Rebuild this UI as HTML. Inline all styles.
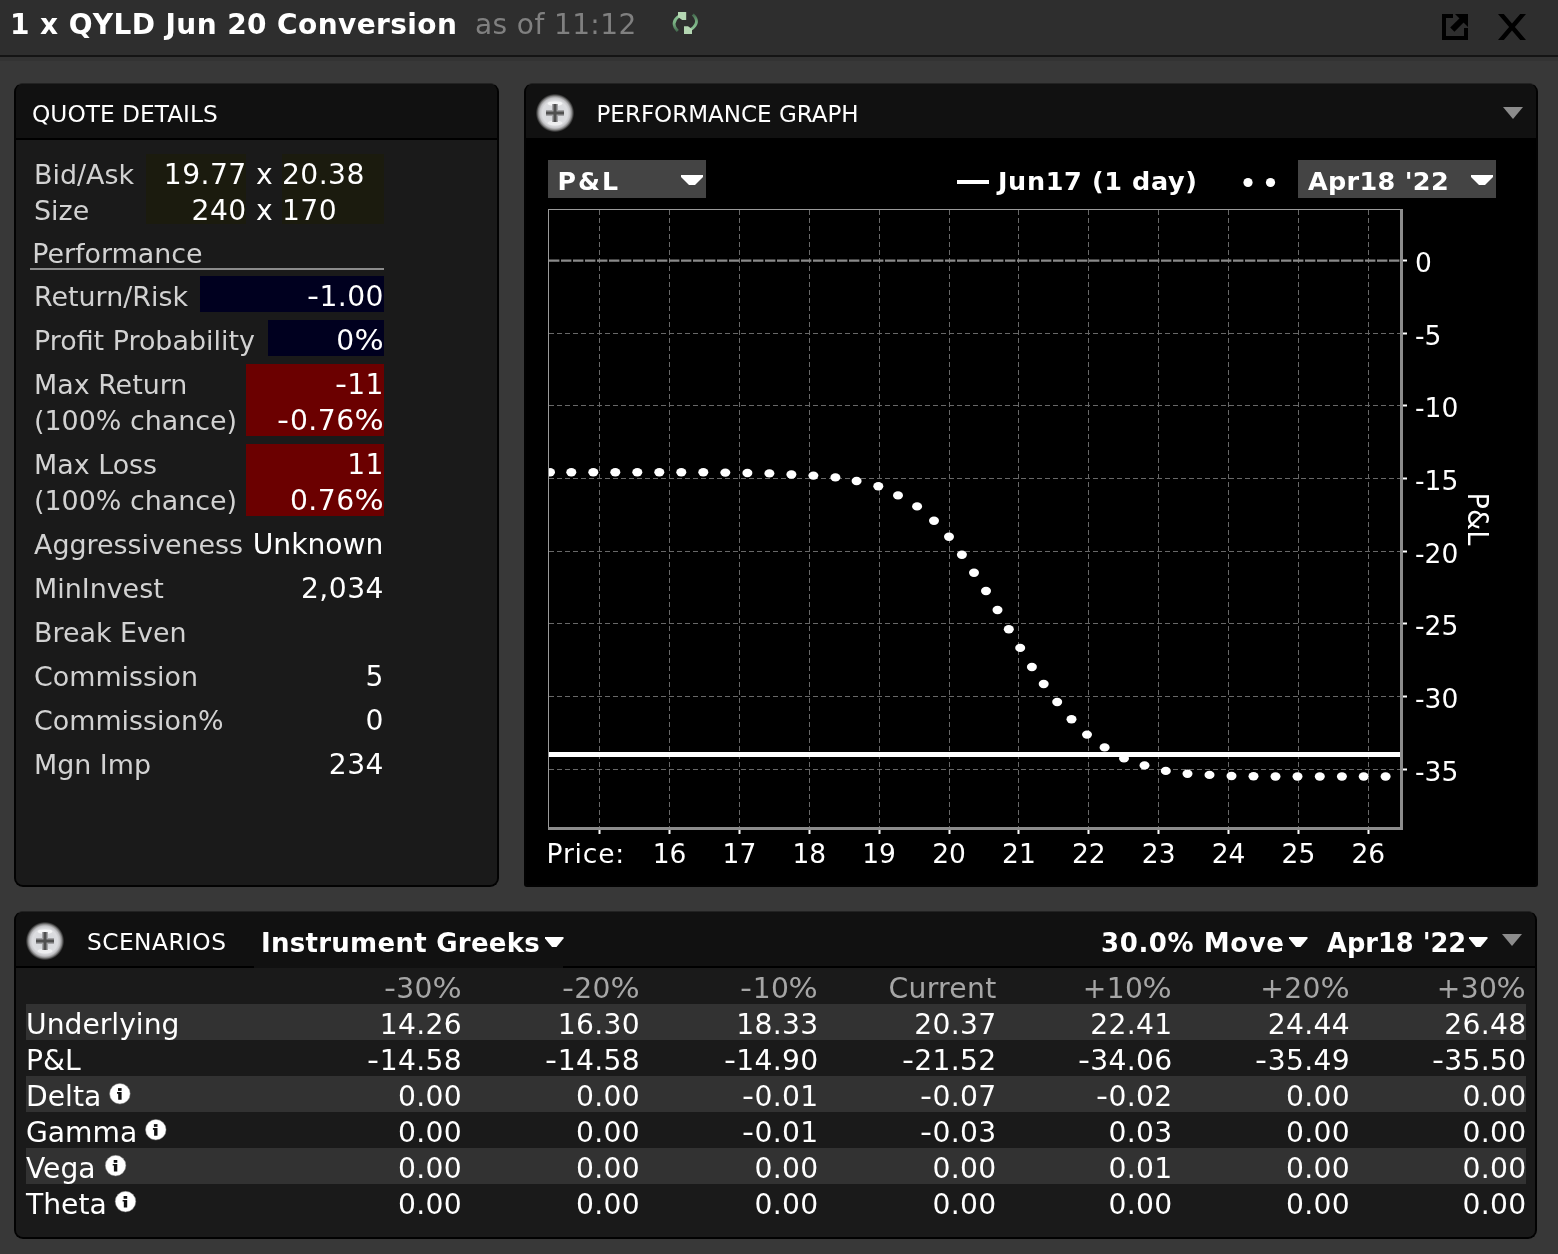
<!DOCTYPE html>
<html>
<head>
<meta charset="utf-8">
<title>1 x QYLD Jun 20 Conversion</title>
<style>
html,body{margin:0;padding:0;}
body{width:1558px;height:1254px;background:#383838;overflow:hidden;position:relative;
 font-family:"DejaVu Sans","Liberation Sans",sans-serif;color:#fff;}
.abs{position:absolute;}
.t{position:absolute;white-space:pre;line-height:1;}
#titlebar{position:absolute;left:0;top:0;width:1558px;height:55px;background:#2e2e2e;}
#titleline{position:absolute;left:0;top:55px;width:1558px;height:2px;background:#141414;}
#titlehl{position:absolute;left:0;top:57px;width:1558px;height:4px;background:#333;}
.panel{position:absolute;background:#111;border:2px solid #020202;border-top:1px solid #222;border-radius:9px;box-sizing:border-box;overflow:hidden;}
.phead{position:absolute;left:0;top:0;right:0;height:54px;background:#111;}
.lbl{color:#d2d2d2;font-size:26.9px;}
.val{color:#fff;font-size:28.2px;text-align:right;}
.num{letter-spacing:0.45px;margin-left:0.45px;}
.hd{font-size:23.3px;color:#fff;}
.b{font-weight:bold;}
.sv{font-size:28.2px;line-height:36px;text-align:right;color:#fff;letter-spacing:0.3px;}
.sl{font-size:28.2px;line-height:36px;color:#fff;}
.pc{display:inline-block;transform:scaleX(1.09);transform-origin:100% 50%;margin-left:2.2px;}
.hy{display:inline-block;transform:scaleX(1.18);transform-origin:100% 50%;margin-left:1.4px;}
</style>
</head>
<body>
<!-- TITLE BAR -->
<div id="titlebar"></div><div id="titleline"></div><div id="titlehl"></div>
<div class="t b" style="left:10px;top:11px;font-size:28px;letter-spacing:0.4px;">1 x QYLD Jun 20 Conversion</div>
<div class="t" style="left:475px;top:11px;font-size:28px;letter-spacing:0.4px;color:#808080;">as of 11:12</div>

<!-- QUOTE DETAILS PANEL -->
<div class="panel" id="qd" style="left:14px;top:83px;width:485px;height:804px;">
  <div class="phead"></div>
  <div class="abs" style="left:0;top:54px;right:0;height:2px;background:#000;"></div>
  <div class="abs" style="left:0;top:56px;right:0;bottom:0;background:#1a1a1a;"></div>
</div>

<!-- PERFORMANCE GRAPH PANEL -->
<div class="panel" id="pg" style="left:524px;top:83px;width:1014px;height:804px;border-radius:9px 9px 3px 3px;">
  <div class="phead"></div>
  <div class="abs" style="left:0;top:54px;right:0;bottom:0;background:#000;"></div>
</div>

<!-- SCENARIOS PANEL -->
<div class="panel" id="sc" style="left:14px;top:911px;width:1523px;height:328px;">
  <div class="phead"></div>
  <div class="abs" style="left:0;top:56px;right:0;bottom:0;background:#1a1a1a;"></div>
</div>

<!-- QUOTE DETAILS CONTENT -->
<div class="t hd" style="left:32px;top:96px;line-height:36px;">QUOTE DETAILS</div>
<div class="abs" style="left:146px;top:154px;width:100px;height:70px;background:#1b1b0e;"></div>
<div class="abs" style="left:282px;top:154px;width:102px;height:70px;background:#1b1b0e;"></div>
<div class="t lbl" style="left:34px;top:157px;line-height:36px;">Bid/Ask</div>
<div class="t lbl" style="left:34px;top:193px;line-height:36px;">Size</div>
<div class="t val num" style="left:-53.7px;width:300px;top:157px;line-height:36px;">19.77</div>
<div class="t val num" style="left:-53.7px;width:300px;top:193px;line-height:36px;">240</div>
<div class="t val" style="left:256px;top:157px;line-height:36px;text-align:left;">x</div>
<div class="t val" style="left:256px;top:193px;line-height:36px;text-align:left;">x</div>
<div class="t val num" style="left:281.5px;top:157px;line-height:36px;text-align:left;">20.38</div>
<div class="t val num" style="left:281.5px;top:193px;line-height:36px;text-align:left;">170</div>
<div class="t lbl" style="left:32.2px;top:236px;line-height:36px;">Performance</div>
<div class="abs" style="left:30px;top:268px;width:354px;height:2px;background:#8c8c8c;"></div>
<div class="abs" style="left:200px;top:276px;width:184px;height:36px;background:#00001f;"></div>
<div class="t lbl" style="left:34px;top:279px;line-height:36px;">Return/Risk</div>
<div class="t val num" style="left:83.5px;width:300px;top:279px;line-height:36px;"><span class="hy">-</span>1.00</div>
<div class="abs" style="left:268px;top:320px;width:116px;height:36px;background:#00001f;"></div>
<div class="t lbl" style="left:34px;top:323px;line-height:36px;">Profit Probability</div>
<div class="t val num" style="left:83.5px;width:300px;top:323px;line-height:36px;">0<span class="pc">%</span></div>
<div class="abs" style="left:246px;top:364px;width:138px;height:72px;background:#6b0000;"></div>
<div class="t lbl" style="left:34px;top:367px;line-height:36px;">Max Return</div>
<div class="t val num" style="left:83.5px;width:300px;top:367px;line-height:36px;"><span class="hy">-</span>11</div>
<div class="t lbl" style="left:34px;top:403px;line-height:36px;">(100% chance)</div>
<div class="t val num" style="left:83.5px;width:300px;top:403px;line-height:36px;"><span class="hy">-</span>0.76<span class="pc">%</span></div>
<div class="abs" style="left:246px;top:444px;width:138px;height:72px;background:#6b0000;"></div>
<div class="t lbl" style="left:34px;top:447px;line-height:36px;">Max Loss</div>
<div class="t val num" style="left:83.5px;width:300px;top:447px;line-height:36px;">11</div>
<div class="t lbl" style="left:34px;top:483px;line-height:36px;">(100% chance)</div>
<div class="t val num" style="left:83.5px;width:300px;top:483px;line-height:36px;">0.76<span class="pc">%</span></div>
<div class="t lbl" style="left:34px;top:527px;line-height:36px;">Aggressiveness</div>
<div class="t val" style="left:83.5px;width:300px;top:527px;line-height:36px;">Unknown</div>
<div class="t lbl" style="left:34px;top:571px;line-height:36px;">MinInvest</div>
<div class="t val num" style="left:83.5px;width:300px;top:571px;line-height:36px;">2,034</div>
<div class="t lbl" style="left:34px;top:615px;line-height:36px;">Break Even</div>
<div class="t lbl" style="left:34px;top:659px;line-height:36px;">Commission</div>
<div class="t val num" style="left:83.5px;width:300px;top:659px;line-height:36px;">5</div>
<div class="t lbl" style="left:34px;top:703px;line-height:36px;">Commission%</div>
<div class="t val num" style="left:83.5px;width:300px;top:703px;line-height:36px;">0</div>
<div class="t lbl" style="left:34px;top:747px;line-height:36px;">Mgn Imp</div>
<div class="t val num" style="left:83.5px;width:300px;top:747px;line-height:36px;">234</div>

<!-- CHART -->
<svg class="abs" style="left:0;top:0;" width="1558" height="1254" viewBox="0 0 1558 1254" font-family="DejaVu Sans, Liberation Sans, sans-serif">
<rect x="548" y="160" width="158" height="38" fill="#444"/>
<rect x="1298" y="160" width="198" height="38" fill="#444"/>
<text x="557.6" y="190.3" font-size="25.2" font-weight="bold" letter-spacing="2" fill="#fff">P&amp;L</text>
<path d="M681 175h22v2l-8 8h-6l-8-8z" fill="#fff"/>
<text x="1308" y="190.3" font-size="25.5" font-weight="bold" letter-spacing="0.3" fill="#fff">Apr18 '22</text>
<path d="M1471 175h22v2l-8 8h-6l-8-8z" fill="#fff"/>
<rect x="957" y="180" width="32" height="4" fill="#fff"/>
<text x="998" y="190.3" font-size="25.5" font-weight="bold" letter-spacing="0.62" fill="#fff">Jun17 (1 day)</text>
<circle cx="1248" cy="182.5" r="4.6" fill="#fff"/><circle cx="1270.5" cy="182.5" r="4.6" fill="#fff"/>
<path d="M599.5 210V827 M669.5 210V827 M739.5 210V827 M809.5 210V827 M879.5 210V827 M949.5 210V827 M1018.5 210V827 M1088.5 210V827 M1158.5 210V827 M1228.5 210V827 M1298.5 210V827 M1368.5 210V827" stroke="#686868" stroke-width="1" stroke-dasharray="5 3" fill="none"/>
<path d="M549 769.5H1400 M549 696.5H1400 M549 623.5H1400 M549 551.5H1400 M549 478.5H1400 M549 405.5H1400 M549 333.5H1400" stroke="#686868" stroke-width="1" stroke-dasharray="5 3" fill="none"/>
<path d="M549 260.6H1400" stroke="#8a8a8a" stroke-width="2.4" stroke-dasharray="10.4 1.6" fill="none"/>
<rect x="548" y="209" width="1" height="621" fill="#9a9a9a"/>
<rect x="548" y="209" width="855" height="1" fill="#9a9a9a"/>
<rect x="1400" y="209" width="3" height="621" fill="#8c8c8c"/>
<rect x="548" y="827" width="855" height="3" fill="#8c8c8c"/>
<rect x="598.5" y="830" width="2" height="4" fill="#fff"/>
<rect x="668.5" y="830" width="2" height="4" fill="#fff"/>
<rect x="738.5" y="830" width="2" height="4" fill="#fff"/>
<rect x="808.5" y="830" width="2" height="4" fill="#fff"/>
<rect x="878.5" y="830" width="2" height="4" fill="#fff"/>
<rect x="948.5" y="830" width="2" height="4" fill="#fff"/>
<rect x="1017.5" y="830" width="2" height="4" fill="#fff"/>
<rect x="1087.5" y="830" width="2" height="4" fill="#fff"/>
<rect x="1157.5" y="830" width="2" height="4" fill="#fff"/>
<rect x="1227.5" y="830" width="2" height="4" fill="#fff"/>
<rect x="1297.5" y="830" width="2" height="4" fill="#fff"/>
<rect x="1367.5" y="830" width="2" height="4" fill="#fff"/>
<rect x="1403" y="768.5" width="4" height="2" fill="#fff"/>
<rect x="1403" y="695.5" width="4" height="2" fill="#fff"/>
<rect x="1403" y="622.5" width="4" height="2" fill="#fff"/>
<rect x="1403" y="550.5" width="4" height="2" fill="#fff"/>
<rect x="1403" y="477.5" width="4" height="2" fill="#fff"/>
<rect x="1403" y="404.5" width="4" height="2" fill="#fff"/>
<rect x="1403" y="332.5" width="4" height="2" fill="#fff"/>
<rect x="1403" y="259.5" width="4" height="2" fill="#fff"/>
<rect x="549" y="752" width="851" height="5" fill="#fff"/>
<text x="546.6" y="863" font-size="26.5" letter-spacing="0.8" fill="#fff">Price:</text>
<text x="669.5" y="863" font-size="26.5" fill="#fff" text-anchor="middle">16</text>
<text x="739.4" y="863" font-size="26.5" fill="#fff" text-anchor="middle">17</text>
<text x="809.3" y="863" font-size="26.5" fill="#fff" text-anchor="middle">18</text>
<text x="879.1" y="863" font-size="26.5" fill="#fff" text-anchor="middle">19</text>
<text x="949.0" y="863" font-size="26.5" fill="#fff" text-anchor="middle">20</text>
<text x="1018.9" y="863" font-size="26.5" fill="#fff" text-anchor="middle">21</text>
<text x="1088.8" y="863" font-size="26.5" fill="#fff" text-anchor="middle">22</text>
<text x="1158.7" y="863" font-size="26.5" fill="#fff" text-anchor="middle">23</text>
<text x="1228.5" y="863" font-size="26.5" fill="#fff" text-anchor="middle">24</text>
<text x="1298.4" y="863" font-size="26.5" fill="#fff" text-anchor="middle">25</text>
<text x="1368.3" y="863" font-size="26.5" fill="#fff" text-anchor="middle">26</text>
<text x="1415" y="780.7" font-size="26.5" fill="#fff">-35</text>
<text x="1415" y="708.0" font-size="26.5" fill="#fff">-30</text>
<text x="1415" y="635.3" font-size="26.5" fill="#fff">-25</text>
<text x="1415" y="562.6" font-size="26.5" fill="#fff">-20</text>
<text x="1415" y="490.0" font-size="26.5" fill="#fff">-15</text>
<text x="1415" y="417.3" font-size="26.5" fill="#fff">-10</text>
<text x="1415" y="344.6" font-size="26.5" fill="#fff">-5</text>
<text x="1415" y="271.9" font-size="26.5" fill="#fff">0</text>
<text transform="translate(1467.6,492.6) rotate(90) scale(0.95,1)" font-size="28.6" fill="#fff">P&amp;L</text>
<clipPath id="plotclip"><rect x="549" y="210" width="851" height="617"/></clipPath><g fill="#fff" clip-path="url(#plotclip)"><ellipse cx="550" cy="472.3" rx="5" ry="4.2"/><ellipse cx="571.3" cy="472.3" rx="5" ry="4.2"/><ellipse cx="593.3" cy="472.3" rx="5" ry="4.2"/><ellipse cx="615.3" cy="472.3" rx="5" ry="4.2"/><ellipse cx="637.3" cy="472.3" rx="5" ry="4.2"/><ellipse cx="659.3" cy="472.3" rx="5" ry="4.2"/><ellipse cx="681.3" cy="472.3" rx="5" ry="4.2"/><ellipse cx="703.3" cy="472.3" rx="5" ry="4.2"/><ellipse cx="725.3" cy="472.6" rx="5" ry="4.2"/><ellipse cx="747.4" cy="473" rx="5" ry="4.2"/><ellipse cx="769.4" cy="473.4" rx="5" ry="4.2"/><ellipse cx="791.4" cy="474.5" rx="5" ry="4.2"/><ellipse cx="813.4" cy="475.6" rx="5" ry="4.2"/><ellipse cx="835.4" cy="477.4" rx="5" ry="4.2"/><ellipse cx="856.6" cy="481" rx="5" ry="4.2"/><ellipse cx="878.3" cy="486.2" rx="5" ry="4.2"/><ellipse cx="898" cy="495.4" rx="5" ry="4.2"/><ellipse cx="917.1" cy="506.4" rx="5" ry="4.2"/><ellipse cx="934" cy="520.7" rx="5" ry="4.2"/><ellipse cx="949" cy="536.8" rx="5" ry="4.2"/><ellipse cx="961.9" cy="554.8" rx="5" ry="4.2"/><ellipse cx="974" cy="572.7" rx="5" ry="4.2"/><ellipse cx="986" cy="591" rx="5" ry="4.2"/><ellipse cx="997.5" cy="610" rx="5" ry="4.2"/><ellipse cx="1008.8" cy="629.2" rx="5" ry="4.2"/><ellipse cx="1020.2" cy="647.9" rx="5" ry="4.2"/><ellipse cx="1031.9" cy="667" rx="5" ry="4.2"/><ellipse cx="1043.7" cy="684" rx="5" ry="4.2"/><ellipse cx="1057.2" cy="702" rx="5" ry="4.2"/><ellipse cx="1071.5" cy="719.2" rx="5" ry="4.2"/><ellipse cx="1087" cy="734.6" rx="5" ry="4.2"/><ellipse cx="1104.6" cy="747.4" rx="5" ry="4.2"/><ellipse cx="1124" cy="758.4" rx="5" ry="4.2"/><ellipse cx="1144.5" cy="765.4" rx="5" ry="4.2"/><ellipse cx="1165.8" cy="770.9" rx="5" ry="4.2"/><ellipse cx="1187.5" cy="773.8" rx="5" ry="4.2"/><ellipse cx="1209.5" cy="774.9" rx="5" ry="4.2"/><ellipse cx="1231.5" cy="776" rx="5" ry="4.2"/><ellipse cx="1253.5" cy="776.3" rx="5" ry="4.2"/><ellipse cx="1275.5" cy="776.5" rx="5" ry="4.2"/><ellipse cx="1297.5" cy="776.5" rx="5" ry="4.2"/><ellipse cx="1319.8" cy="776.5" rx="5" ry="4.2"/><ellipse cx="1341.9" cy="776.5" rx="5" ry="4.2"/><ellipse cx="1363.7" cy="776.5" rx="5" ry="4.2"/><ellipse cx="1385.6" cy="776.5" rx="5" ry="4.2"/></g>
</svg>
<div class="t hd" style="left:596.5px;top:96px;line-height:36px;font-size:23px;">PERFORMANCE GRAPH</div>

<!-- SCENARIOS CONTENT -->
<div class="abs" style="left:16px;top:966px;width:238px;height:2px;background:#000;"></div>
<div class="abs" style="left:563px;top:966px;width:972px;height:2px;background:#000;"></div>
<div class="t" style="left:87px;top:924px;line-height:36px;font-size:23.3px;letter-spacing:0.45px;color:#fff;">SCENARIOS</div>
<div class="t b" style="left:261px;top:925px;line-height:36px;font-size:26px;letter-spacing:0.28px;">Instrument Greeks</div>
<div class="t b" style="left:1101px;top:925px;line-height:36px;font-size:26px;letter-spacing:0.6px;">30.0% Move</div>
<div class="t b" style="left:1327px;top:925px;line-height:36px;font-size:25.7px;">Apr18 '22</div>
<div class="t sv" style="left:262px;width:200px;top:971px;color:#a6a6a6;"><span class="hy">-</span>30<span class="pc">%</span></div>
<div class="t sv" style="left:440px;width:200px;top:971px;color:#a6a6a6;"><span class="hy">-</span>20<span class="pc">%</span></div>
<div class="t sv" style="left:618.5px;width:200px;top:971px;color:#a6a6a6;"><span class="hy">-</span>10<span class="pc">%</span></div>
<div class="t sv" style="left:796.5px;width:200px;top:971px;color:#a6a6a6;">Current</div>
<div class="t sv" style="left:972.5px;width:200px;top:971px;color:#a6a6a6;">+10<span class="pc">%</span></div>
<div class="t sv" style="left:1150px;width:200px;top:971px;color:#a6a6a6;">+20<span class="pc">%</span></div>
<div class="t sv" style="left:1326.5px;width:200px;top:971px;color:#a6a6a6;">+30<span class="pc">%</span></div>
<div class="abs" style="left:26px;top:1004px;width:1500px;height:36px;background:#323232;"></div>
<div class="t sl" style="left:26px;top:1007px;">Underlying</div>
<div class="t sv" style="left:262px;width:200px;top:1007px;">14.26</div>
<div class="t sv" style="left:440px;width:200px;top:1007px;">16.30</div>
<div class="t sv" style="left:618.5px;width:200px;top:1007px;">18.33</div>
<div class="t sv" style="left:796.5px;width:200px;top:1007px;">20.37</div>
<div class="t sv" style="left:972.5px;width:200px;top:1007px;">22.41</div>
<div class="t sv" style="left:1150px;width:200px;top:1007px;">24.44</div>
<div class="t sv" style="left:1326.5px;width:200px;top:1007px;">26.48</div>
<div class="t sl" style="left:26px;top:1043px;">P&amp;L</div>
<div class="t sv" style="left:262px;width:200px;top:1043px;"><span class="hy">-</span>14.58</div>
<div class="t sv" style="left:440px;width:200px;top:1043px;"><span class="hy">-</span>14.58</div>
<div class="t sv" style="left:618.5px;width:200px;top:1043px;"><span class="hy">-</span>14.90</div>
<div class="t sv" style="left:796.5px;width:200px;top:1043px;"><span class="hy">-</span>21.52</div>
<div class="t sv" style="left:972.5px;width:200px;top:1043px;"><span class="hy">-</span>34.06</div>
<div class="t sv" style="left:1150px;width:200px;top:1043px;"><span class="hy">-</span>35.49</div>
<div class="t sv" style="left:1326.5px;width:200px;top:1043px;"><span class="hy">-</span>35.50</div>
<div class="abs" style="left:26px;top:1076px;width:1500px;height:36px;background:#323232;"></div>
<div class="t sl" style="left:26px;top:1079px;">Delta</div>
<div class="t sv" style="left:262px;width:200px;top:1079px;">0.00</div>
<div class="t sv" style="left:440px;width:200px;top:1079px;">0.00</div>
<div class="t sv" style="left:618.5px;width:200px;top:1079px;"><span class="hy">-</span>0.01</div>
<div class="t sv" style="left:796.5px;width:200px;top:1079px;"><span class="hy">-</span>0.07</div>
<div class="t sv" style="left:972.5px;width:200px;top:1079px;"><span class="hy">-</span>0.02</div>
<div class="t sv" style="left:1150px;width:200px;top:1079px;">0.00</div>
<div class="t sv" style="left:1326.5px;width:200px;top:1079px;">0.00</div>
<div class="t sl" style="left:26px;top:1115px;">Gamma</div>
<div class="t sv" style="left:262px;width:200px;top:1115px;">0.00</div>
<div class="t sv" style="left:440px;width:200px;top:1115px;">0.00</div>
<div class="t sv" style="left:618.5px;width:200px;top:1115px;"><span class="hy">-</span>0.01</div>
<div class="t sv" style="left:796.5px;width:200px;top:1115px;"><span class="hy">-</span>0.03</div>
<div class="t sv" style="left:972.5px;width:200px;top:1115px;">0.03</div>
<div class="t sv" style="left:1150px;width:200px;top:1115px;">0.00</div>
<div class="t sv" style="left:1326.5px;width:200px;top:1115px;">0.00</div>
<div class="abs" style="left:26px;top:1148px;width:1500px;height:36px;background:#323232;"></div>
<div class="t sl" style="left:26px;top:1151px;">Vega</div>
<div class="t sv" style="left:262px;width:200px;top:1151px;">0.00</div>
<div class="t sv" style="left:440px;width:200px;top:1151px;">0.00</div>
<div class="t sv" style="left:618.5px;width:200px;top:1151px;">0.00</div>
<div class="t sv" style="left:796.5px;width:200px;top:1151px;">0.00</div>
<div class="t sv" style="left:972.5px;width:200px;top:1151px;">0.01</div>
<div class="t sv" style="left:1150px;width:200px;top:1151px;">0.00</div>
<div class="t sv" style="left:1326.5px;width:200px;top:1151px;">0.00</div>
<div class="t sl" style="left:26px;top:1187px;">Theta</div>
<div class="t sv" style="left:262px;width:200px;top:1187px;">0.00</div>
<div class="t sv" style="left:440px;width:200px;top:1187px;">0.00</div>
<div class="t sv" style="left:618.5px;width:200px;top:1187px;">0.00</div>
<div class="t sv" style="left:796.5px;width:200px;top:1187px;">0.00</div>
<div class="t sv" style="left:972.5px;width:200px;top:1187px;">0.00</div>
<div class="t sv" style="left:1150px;width:200px;top:1187px;">0.00</div>
<div class="t sv" style="left:1326.5px;width:200px;top:1187px;">0.00</div>

<!-- ICONS -->
<svg class="abs" style="left:0;top:0;" width="1558" height="1254" viewBox="0 0 1558 1254" font-family="DejaVu Sans, Liberation Sans, sans-serif">
<defs>
<radialGradient id="pg1" cx="0.5" cy="0.5" r="0.5">
<stop offset="0" stop-color="#d4d6da"/><stop offset="0.66" stop-color="#dcdde0"/><stop offset="0.78" stop-color="#c2c2c5"/><stop offset="0.88" stop-color="#8a8a8a" stop-opacity="0.9"/><stop offset="0.95" stop-color="#555" stop-opacity="0.55"/><stop offset="1" stop-color="#333" stop-opacity="0"/>
</radialGradient>
<g id="plus"><circle cx="0" cy="0" r="19.4" fill="url(#pg1)"/>
<ellipse cx="0" cy="-9.5" rx="7.5" ry="2.3" fill="#fff" opacity="0.7"/>
<ellipse cx="0" cy="10" rx="7.5" ry="2.6" fill="#fff" opacity="0.5"/>
<rect x="-9" y="-3" width="18" height="6" fill="#a2a2a5"/><rect x="-3" y="-9" width="6" height="18" fill="#a2a2a5"/>
<rect x="-9" y="-1.5" width="18" height="3" fill="#505050"/><rect x="-1.5" y="-9" width="3" height="18" fill="#505050"/></g>
<g id="info"><circle cx="0" cy="0" r="10.3" fill="#fff"/><circle cx="0" cy="0" r="10.3" fill="none" stroke="#888" stroke-opacity="0.5" stroke-width="1"/>
<rect x="-1.9" y="-5.6" width="3.6" height="2.8" fill="#111"/><path d="M-2.9 -1.6h4.6v7.6h-3.4v-6h-1.2z" fill="#111"/></g>
<linearGradient id="ga1" x1="0" y1="16" x2="0" y2="31" gradientUnits="userSpaceOnUse"><stop offset="0" stop-color="#8cc496"/><stop offset="0.5" stop-color="#76ad80"/><stop offset="1" stop-color="#456b4f"/></linearGradient>
<linearGradient id="ga2" x1="0" y1="14.5" x2="0" y2="29.5" gradientUnits="userSpaceOnUse"><stop offset="0" stop-color="#456b4f"/><stop offset="0.5" stop-color="#76ad80"/><stop offset="1" stop-color="#8cc496"/></linearGradient>
</defs>
<path d="M677.8 31Q670 23 678.5 16.4" fill="none" stroke="url(#ga1)" stroke-width="2.9"/>
<path d="M678 12h8.2v8h-4l-4.2-3z" fill="#b4d6b2"/>
<path d="M692.8 14.5Q700.8 22 691.5 29.2" fill="none" stroke="url(#ga2)" stroke-width="2.9"/>
<path d="M684 26.3h4l4 2.7v5h-8z" fill="#b4d6b2"/>
<path d="M1442 14h11v4h-7v18h18v-8h4v12h-26z" fill="#000"/>
<path d="M1455 14h13v13z" fill="#000"/><path d="M1452.3 29.7L1463 19" stroke="#000" stroke-width="6" fill="none"/>
<path d="M1498 14h5.8l8.2 9.6 8.2-9.6h5.8l-11.1 13 11.1 13h-5.8l-8.2-9.6-8.2 9.6h-5.8l11.1-13z" fill="#000"/>
<use href="#plus" x="555" y="113"/><use href="#plus" x="45" y="941"/>
<path d="M1503 107h20l-10 12z" fill="#8c8c8c"/>
<path d="M1502 934h20l-10 12z" fill="#8c8c8c"/>
<path d="M545 937h18.5v1.5l-7 8.5h-4.5l-7-8.5z" fill="#fff"/>
<path d="M1289 937h18.5v1.5l-7 8.5h-4.5l-7-8.5z" fill="#fff"/>
<path d="M1469 937h18.5v1.5l-7 8.5h-4.5l-7-8.5z" fill="#fff"/>
<use href="#info" x="119.9" y="1093.7"/>
<use href="#info" x="155.8" y="1129.7"/>
<use href="#info" x="115.6" y="1165.6"/>
<use href="#info" x="125.5" y="1201.6"/>
</svg>

</body>
</html>
